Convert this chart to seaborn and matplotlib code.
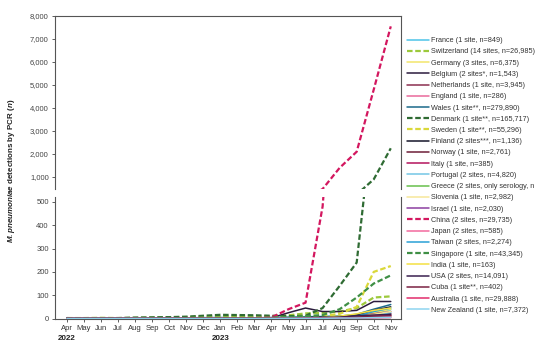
import numpy as np
import pandas as pd
import matplotlib
matplotlib.use("Agg")
import matplotlib.pyplot as plt
import matplotlib.transforms as mtransforms
import seaborn as sns

months = ["Apr", "May", "Jun", "Jul", "Aug", "Sep", "Oct", "Nov", "Dec", "Jan",
          "Feb", "Mar", "Apr", "May", "Jun", "Jul", "Aug", "Sep", "Oct", "Nov"]
years = {0: "2022", 9: "2023"}

countries = ["France", "Switzerland", "Germany", "Belgium", "Netherlands", "England",
             "Wales", "Denmark", "Sweden", "Finland", "Norway", "Italy", "Portugal",
             "Greece", "Slovenia", "Israel", "China", "Japan", "Taiwan", "Singapore",
             "India", "USA", "Cuba", "Australia", "New Zealand"]

labels = ["France (1 site, n=849)", "Switzerland (14 sites, n=26,985)",
          "Germany (3 sites, n=6,375)", "Belgium (2 sites*, n=1,543)",
          "Netherlands (1 site, n=3,945)", "England (1 site, n=286)",
          "Wales (1 site**, n=279,890)", "Denmark (1 site**, n=165,717)",
          "Sweden (1 site**, n=55,296)", "Finland (2 sites***, n=1,136)",
          "Norway (1 site, n=2,761)", "Italy (1 site, n=385)",
          "Portugal (2 sites, n=4,820)", "Greece (2 sites, only serology, n",
          "Slovenia (1 site, n=2,982)", "Israel (1 site, n=2,030)",
          "China (2 sites, n=29,735)", "Japan (2 sites, n=585)",
          "Taiwan (2 sites, n=2,274)", "Singapore (1 site, n=43,345)",
          "India (1 site, n=163)", "USA (2 sites, n=14,091)",
          "Cuba (1 site**, n=402)", "Australia (1 site, n=29,888)",
          "New Zealand (1 site, n=7,372)"]

france = [3, 1, 2, 1, 1, 2, 2, 3, 4, 4, 3, 3, 4, 6, 8, 9, 10, 14, 25, 38]
switzerland = [2, 2, 3, 2, 3, 4, 5, 6, 8, 9, 8, 8, 10, 14, 22, 24, 30, 45, 90, 95]
germany = [1, 1, 1, 1, 1, 1, 2, 2, 3, 3, 2, 2, 3, 4, 5, 6, 8, 12, 25, 40]
belgium = [0, 0, 0, 0, 0, 0, 1, 1, 1, 1, 1, 1, 3, 25, 45, 30, 30, 35, 73, 73]
netherlands = [1, 0, 1, 0, 0, 1, 1, 1, 2, 2, 1, 1, 2, 3, 4, 5, 6, 10, 20, 30]
england = [0, 0, 0, 0, 0, 0, 0, 1, 1, 1, 0, 0, 1, 1, 2, 2, 3, 5, 8, 12]
wales = [2, 2, 1, 1, 1, 2, 2, 3, 3, 4, 3, 3, 4, 5, 6, 8, 10, 18, 40, 60]
denmark = [2, 1, 1, 2, 4, 5, 6, 8, 12, 16, 15, 14, 12, 10, 12, 45, 140, 240, 900, 2250]
sweden = [1, 1, 1, 1, 1, 1, 2, 2, 3, 3, 3, 3, 4, 5, 8, 10, 20, 50, 200, 225]
finland = [0, 0, 0, 0, 0, 0, 0, 0, 1, 1, 1, 1, 1, 2, 4, 6, 8, 15, 35, 50]
norway = [0, 0, 0, 0, 0, 0, 1, 1, 1, 1, 1, 1, 1, 2, 3, 4, 5, 8, 15, 22]
italy = [0, 0, 0, 0, 0, 0, 0, 0, 0, 0, 0, 0, 1, 1, 1, 2, 3, 5, 10, 15]
portugal = [1, 1, 1, 1, 1, 1, 1, 1, 2, 2, 2, 1, 2, 2, 3, 4, 5, 8, 15, 25]
greece = [0, 0, 0, 0, 0, 0, 0, 0, 0, 0, 0, 0, 0, 0, 1, 1, 2, 3, 6, 10]
slovenia = [0, 0, 0, 0, 0, 0, 0, 1, 1, 1, 1, 1, 1, 2, 2, 3, 4, 8, 18, 30]
israel = [0, 0, 0, 0, 0, 0, 0, 0, 0, 0, 0, 0, 1, 1, 2, 2, 3, 5, 10, 15]
china = [1, 1, 1, 1, 1, 1, 1, 1, 1, 1, 1, 2, 5, 40, 68, 480, 1400, 2100, 4800, 7550]
japan = [0, 0, 0, 0, 0, 0, 0, 0, 0, 0, 0, 0, 0, 1, 1, 1, 2, 3, 5, 8]
taiwan = [0, 0, 0, 0, 0, 0, 0, 0, 0, 0, 0, 0, 1, 1, 2, 3, 5, 10, 30, 45]
singapore = [1, 1, 1, 1, 1, 2, 2, 2, 3, 3, 3, 3, 4, 6, 10, 15, 40, 90, 150, 185]
india = [0, 0, 0, 0, 0, 0, 0, 0, 0, 0, 0, 0, 1, 1, 2, 3, 10, 20, 35, 45]
usa = [1, 1, 1, 1, 1, 1, 1, 1, 1, 1, 1, 1, 1, 2, 3, 4, 6, 12, 15, 18]
cuba = [0, 0, 0, 0, 0, 0, 0, 0, 0, 0, 0, 0, 0, 1, 2, 3, 4, 6, 10, 12]
australia = [0, 0, 0, 0, 0, 0, 0, 0, 0, 0, 0, 0, 0, 0, 1, 1, 1, 2, 3, 4]
new_zealand = [0, 0, 0, 0, 0, 0, 0, 0, 0, 0, 0, 0, 0, 1, 1, 1, 2, 2, 4, 5]

series = [france, switzerland, germany, belgium, netherlands, england, wales, denmark,
          sweden, finland, norway, italy, portugal, greece, slovenia, israel, china,
          japan, taiwan, singapore, india, usa, cuba, australia, new_zealand]

colors = ["#4DC3E8", "#9CC93B", "#F3E66B", "#2B1B3D", "#8C2F4F", "#E96A9B",
          "#1B6A8A", "#2F6B33", "#DAD83A", "#15152A", "#6E1E38", "#B4135C",
          "#74C6E6", "#67C04B", "#F6E79A", "#8B3FA0", "#D3175F", "#F36A9E",
          "#2AA0D6", "#3F8F45", "#F4E043", "#3A2050", "#7A2243", "#E22C6B",
          "#8ED4F0"]
dashed = {"Switzerland", "Denmark", "Sweden", "China", "Singapore"}

rows = []
for c, vals in zip(countries, series):
    for i, v in enumerate(vals):
        rows.append({"country": c, "month": i, "value": v})
df = pd.DataFrame(rows)

sns.set_style("white")
plt.rcParams["font.family"] = ["Liberation Sans", "DejaVu Sans"]
plt.rcParams["mathtext.fontset"] = "custom"
plt.rcParams["mathtext.it"] = "Liberation Sans:italic:bold"
plt.rcParams["mathtext.rm"] = "Liberation Sans:bold"

fig = plt.figure(figsize=(5.36, 3.42), dpi=100)
ax_top = fig.add_axes([55 / 536, 1 - 189 / 342, 346 / 536, 173 / 342])
ax_bot = fig.add_axes([55 / 536, 1 - 319 / 342, 346 / 536, 122 / 342])

for ax in (ax_top, ax_bot):
    for c, col in zip(countries, colors):
        sub = df[df["country"] == c]
        is_d = c in dashed
        sns.lineplot(data=sub, x="month", y="value", ax=ax, color=col,
                     linewidth=1.6 if is_d else 1.1,
                     linestyle=(0, (2.5, 1.2)) if is_d else "-",
                     label=labels[countries.index(c)], legend=False)
    ax.set_xlim(-0.7, 19.6)
    ax.set_xlabel("")
    ax.set_ylabel("")
    for s in ax.spines.values():
        s.set_color("#555555")
        s.set_linewidth(0.8)

ax_top.set_ylim(480, 8000)
ax_top.set_yticks(range(1000, 8001, 1000))
ax_top.set_yticklabels([f"{v:,}" for v in range(1000, 8001, 1000)])
ax_top.set_xticks([])
ax_top.spines["bottom"].set_visible(False)

ax_bot.set_ylim(-2, 521)
ax_bot.set_yticks(range(0, 501, 100))
ax_bot.set_xticks(range(len(months)))
ax_bot.set_xticklabels(months)
ax_bot.spines["top"].set_visible(False)

for ax in (ax_top, ax_bot):
    ax.tick_params(axis="both", labelsize=5.5, colors="#444444", length=2.5,
                   width=0.6, pad=2, left=True, bottom=True)
    ax.tick_params(axis="x", colors="#444444", labelcolor="#333333")

trans = mtransforms.blended_transform_factory(ax_bot.transData, fig.transFigure)
for i, y in years.items():
    ax_bot.text(i, 1 - 338 / 342, y, transform=trans, ha="center", va="center",
                fontsize=5.8, fontweight="bold", color="#222222")

fig.text(0.022, 0.5, r"$\it{M. pneumoniae}$ detections by PCR ($\it{n}$)",
         rotation=90, ha="center", va="center", fontsize=5.8, fontweight="bold",
         color="#222222")

handles, lbls = ax_top.get_legend_handles_labels()
leg = fig.legend(handles, lbls, loc="upper left",
                 bbox_to_anchor=(407 / 536, 1 - 37 / 342), frameon=False,
                 fontsize=5.2, handlelength=3.0, handletextpad=0.35,
                 labelspacing=0.58, borderaxespad=0, borderpad=0)
for t in leg.get_texts():
    t.set_color("#333333")

fig.savefig("out.png", dpi=100)
